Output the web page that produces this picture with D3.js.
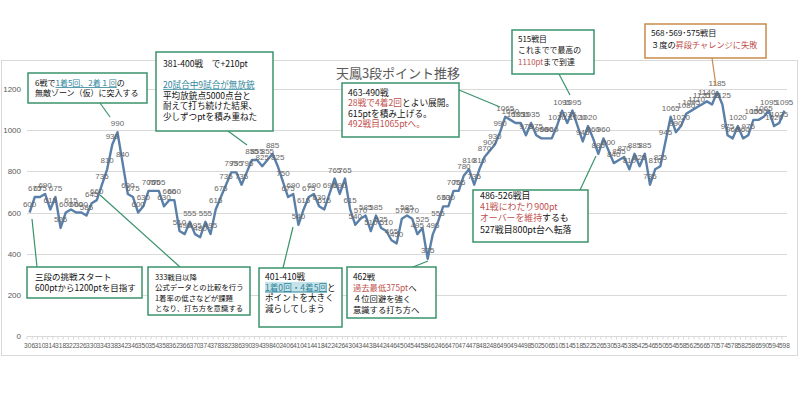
<!DOCTYPE html>
<html><head><meta charset="utf-8">
<script src="https://cdn.jsdelivr.net/npm/d3@7"></script>
<style>body{margin:0;background:#fff}svg{display:block}</style>
</head><body>
<svg id="c" width="800" height="419"></svg>
<script>
// ---- data ----
const title = "天鳳3段ポイント推移";
const games = d3.range(306, 599, 2); // category labels (game number, every 2 games)
const points = [
 600,675,675,690,615,675,525,600,615,600,600,585,645,660,735,810,930,990,840,690,
 675,600,630,705,705,705,630,660,660,510,495,555,495,480,555,495,615,675,735,795,
 795,735,795,855,855,825,855,885,825,750,675,690,540,615,675,690,630,615,690,765,
 690,765,615,540,570,585,510,585,525,510,465,450,570,585,570,495,525,375,495,555,
 630,630,705,705,780,810,735,810,870,900,930,990,1065,1050,1035,1035,975,1035,975,960,
 960,960,1020,1095,1035,1095,1020,945,1020,960,885,960,900,840,855,870,810,885,825,885,
 735,810,825,945,1065,990,1020,1080,1095,1110,1125,1140,1125,1185,1125,975,960,1020,960,975,
 1050,1050,1065,1095,1020,1035,1095
];
const yTicks = [0,200,400,600,800,1000,1200];
const xTickLabels = games.filter((g,i)=>i%2===0);

// annotation texts: each line is a list of [text, style] ; style: '' normal, 'r' red, 'u' teal underline, 'h' teal highlight
const notes = [
 {box:[28,73,119,30], col:'#3a936b', fs:8.0, tx:7, ty:13, lh:10,
  from:[100,103], to:[110,117],
  lines:[[['6戦で',''],['1着5回、2着１回','u'],['の','']],[['無敵ゾーン（仮）に突入する','']]]},
 {box:[156,52,117,79], col:'#3a936b', fs:8.6, tx:7, ty:14.5, lh:10.7,
  from:[228,131], to:[247,145],
  lines:[[['381-400戦　で+210pt','']],[['','']],[['20試合中9試合が無放銃','u']],[['平均放銃点5000点台と','']],[['耐えて打ち続けた結果、','']],[['少しずつptを積み重ねた','']]]},
 {box:[342,83,117,54], col:'#3a936b', fs:8.7, tx:6, ty:13, lh:10.3,
  from:[459,90], to:[500,107],
  lines:[[['463-490戦','']],[['28戦で4着2回','r'],['とよい展開。','']],[['615ptを積み上げる。','']],[['492戦目1065ptへ。','r']]]},
 {box:[512,30,82,44], col:'#3a936b', fs:7.9, tx:6, ty:11.5, lh:11.7,
  from:[559,74], to:[570,95],
  lines:[[['515戦目','']],[['これまでで最高の','']],[['1110pt','r'],['まで到達','']]]},
 {box:[645,24,121,34], col:'#c98a4b', fs:8.2, tx:6, ty:11.5, lh:12,
  from:[712,58], to:[716,86],
  lines:[[['568･569･575戦目','']],[[' ３度の',''],['昇段チャレンジに失敗','r']]]},
 {box:[473,190,115,52], col:'#3a936b', fs:8.9, tx:7, ty:8.8, lh:11.3,
  from:[580,190], to:[596,156],
  lines:[[['486-526戦目','']],[['41戦にわたり900pt','r']],[['オーバーを維持','r'],['するも','']],[['527戦目800pt台へ転落','']]]},
 {box:[27,267,115,31], col:'#3a936b', fs:8.5, tx:8, ty:13, lh:11.3,
  from:[37,267], to:[32,219],
  lines:[[['三段の挑戦スタート','']],[['600ptから1200ptを目指す','']]]},
 {box:[148,267,102,48], col:'#3a936b', fs:7.4, tx:7, ty:13, lh:10.4,
  from:[180,267], to:[100,195],
  lines:[[['333戦目以降','']],[['公式データとの比較を行う','']],[['1着率の低さなどが課題','']],[['となり、打ち方を意識する','']]]},
 {box:[259,268,83,59], col:'#3a936b', fs:8.6, tx:6, ty:12, lh:10.5,
  from:[283,268], to:[293,227],
  lines:[[['401-410戦','']],[['1着0回・4着5回','h'],['と','']],[['ポイントを大きく','']],[['減らしてしまう','']]]},
 {box:[347,267,89,51], col:'#3a936b', fs:8.3, tx:6, ty:13, lh:11,
  from:[413,267], to:[428,261],
  lines:[[['462戦','']],[['過去最低375pt','r'],['へ','']],[[' ４位回避を強く','']],[['意識する打ち方へ','']]]}
];

// ---- chart ----
const svg = d3.select('#c');
const plot = {l:27, r:787, t:89, b:336};
const x = d3.scaleBand().domain(games).range([plot.l, plot.r]);
const cx = g => x(g) + x.bandwidth()/2;
const y = d3.scaleLinear().domain([0,1200]).range([plot.b, plot.t]);

// chart area border
svg.append('rect').attr('x',1.5).attr('y',60.5).attr('width',796).attr('height',295)
  .attr('fill','#fff').attr('stroke','#d9d9d9');

// title
svg.append('text').attr('x',398).attr('y',78).attr('text-anchor','middle')
  .attr('font-family','"Noto Sans CJK JP"').attr('font-size',13).attr('fill','#595959').text(title);

// gridlines & y labels
const ya = svg.append('g');
ya.selectAll('line').data(yTicks.filter(d=>d>0)).join('line')
  .attr('x1',plot.l).attr('x2',plot.r).attr('y1',d=>Math.round(y(d))+0.5).attr('y2',d=>Math.round(y(d))+0.5)
  .attr('stroke','#d9d9d9').attr('stroke-width',1);
ya.selectAll('text').data(yTicks).join('text')
  .attr('x',21).attr('y',d=>y(d)+3).attr('text-anchor','end')
  .attr('font-family','"Liberation Sans", Arial').attr('font-size',8).attr('fill','#595959').text(d=>d);

// x axis
const xa = svg.append('g').attr('transform',`translate(0,${Math.round(plot.b)+0.5})`);
xa.append('line').attr('x1',plot.l).attr('x2',plot.r).attr('stroke','#d9d9d9');
xa.selectAll('line.t').data(games).join('line').attr('class','t')
  .attr('x1',d=>x(d)).attr('x2',d=>x(d)).attr('y1',0).attr('y2',3).attr('stroke','#d9d9d9');
xa.selectAll('text').data(xTickLabels).join('text')
  .attr('x',d=>cx(d)).attr('y',11.5).attr('text-anchor','middle')
  .attr('font-family','"Liberation Sans", Arial').attr('font-size',6.6).attr('fill','#595959').text(d=>d);

// line
const series = games.map((g,i)=>({g, v:points[i]}));
svg.append('path').datum(series)
  .attr('d', d3.line().x(d=>cx(d.g)).y(d=>y(d.v)))
  .attr('fill','none').attr('stroke','#5a7fa9').attr('stroke-width',2.4).attr('stroke-linejoin','round');

// data labels
svg.append('g').selectAll('text').data(series).join('text')
  .attr('x',d=>cx(d.g)).attr('y',d=>y(d.v)-6).attr('text-anchor','middle')
  .attr('font-family','"Liberation Sans", Arial').attr('font-size',8).attr('fill','#666')
  .text(d=>d.v);

// annotations
const ng = svg.append('g');
notes.forEach(n=>{
  ng.append('line').attr('x1',n.from[0]).attr('y1',n.from[1]).attr('x2',n.to[0]).attr('y2',n.to[1])
    .attr('stroke',n.col).attr('stroke-width',1.2);
  const [bx,by,bw,bh]=n.box;
  ng.append('rect').attr('x',bx).attr('y',by).attr('width',bw).attr('height',bh)
    .attr('fill','#fff').attr('stroke',n.col).attr('stroke-width',1.5);
  n.lines.forEach((ln,li)=>{
    const ty = by+n.ty+li*n.lh;
    const t = ng.append('text').attr('x',bx+n.tx).attr('y',ty)
      .attr('font-family','"Noto Sans CJK JP"').attr('font-size',n.fs).attr('fill','#111');
    let start=0; const hl=[];
    ln.forEach(([s,st])=>{
      const sp = t.append('tspan').text(s);
      if(st==='r') sp.attr('fill','#c0504d');
      if(st==='u') sp.attr('fill','#31859c').attr('text-decoration','underline');
      if(st==='h'){ sp.attr('fill','#31859c').attr('text-decoration','underline'); hl.push([start,s.length]); }
      start+=s.length;
    });
    hl.forEach(([s0,len])=>{
      const node=t.node();
      const off = s0>0? node.getSubStringLength(0,s0):0;
      const w = node.getSubStringLength(s0,len);
      ng.insert('rect', ()=>node).attr('x',bx+n.tx+off).attr('y',ty-n.fs).attr('width',w).attr('height',n.fs+2.5)
        .attr('fill','#c6e3ea');
    });
  });
});
</script>
</body></html>
